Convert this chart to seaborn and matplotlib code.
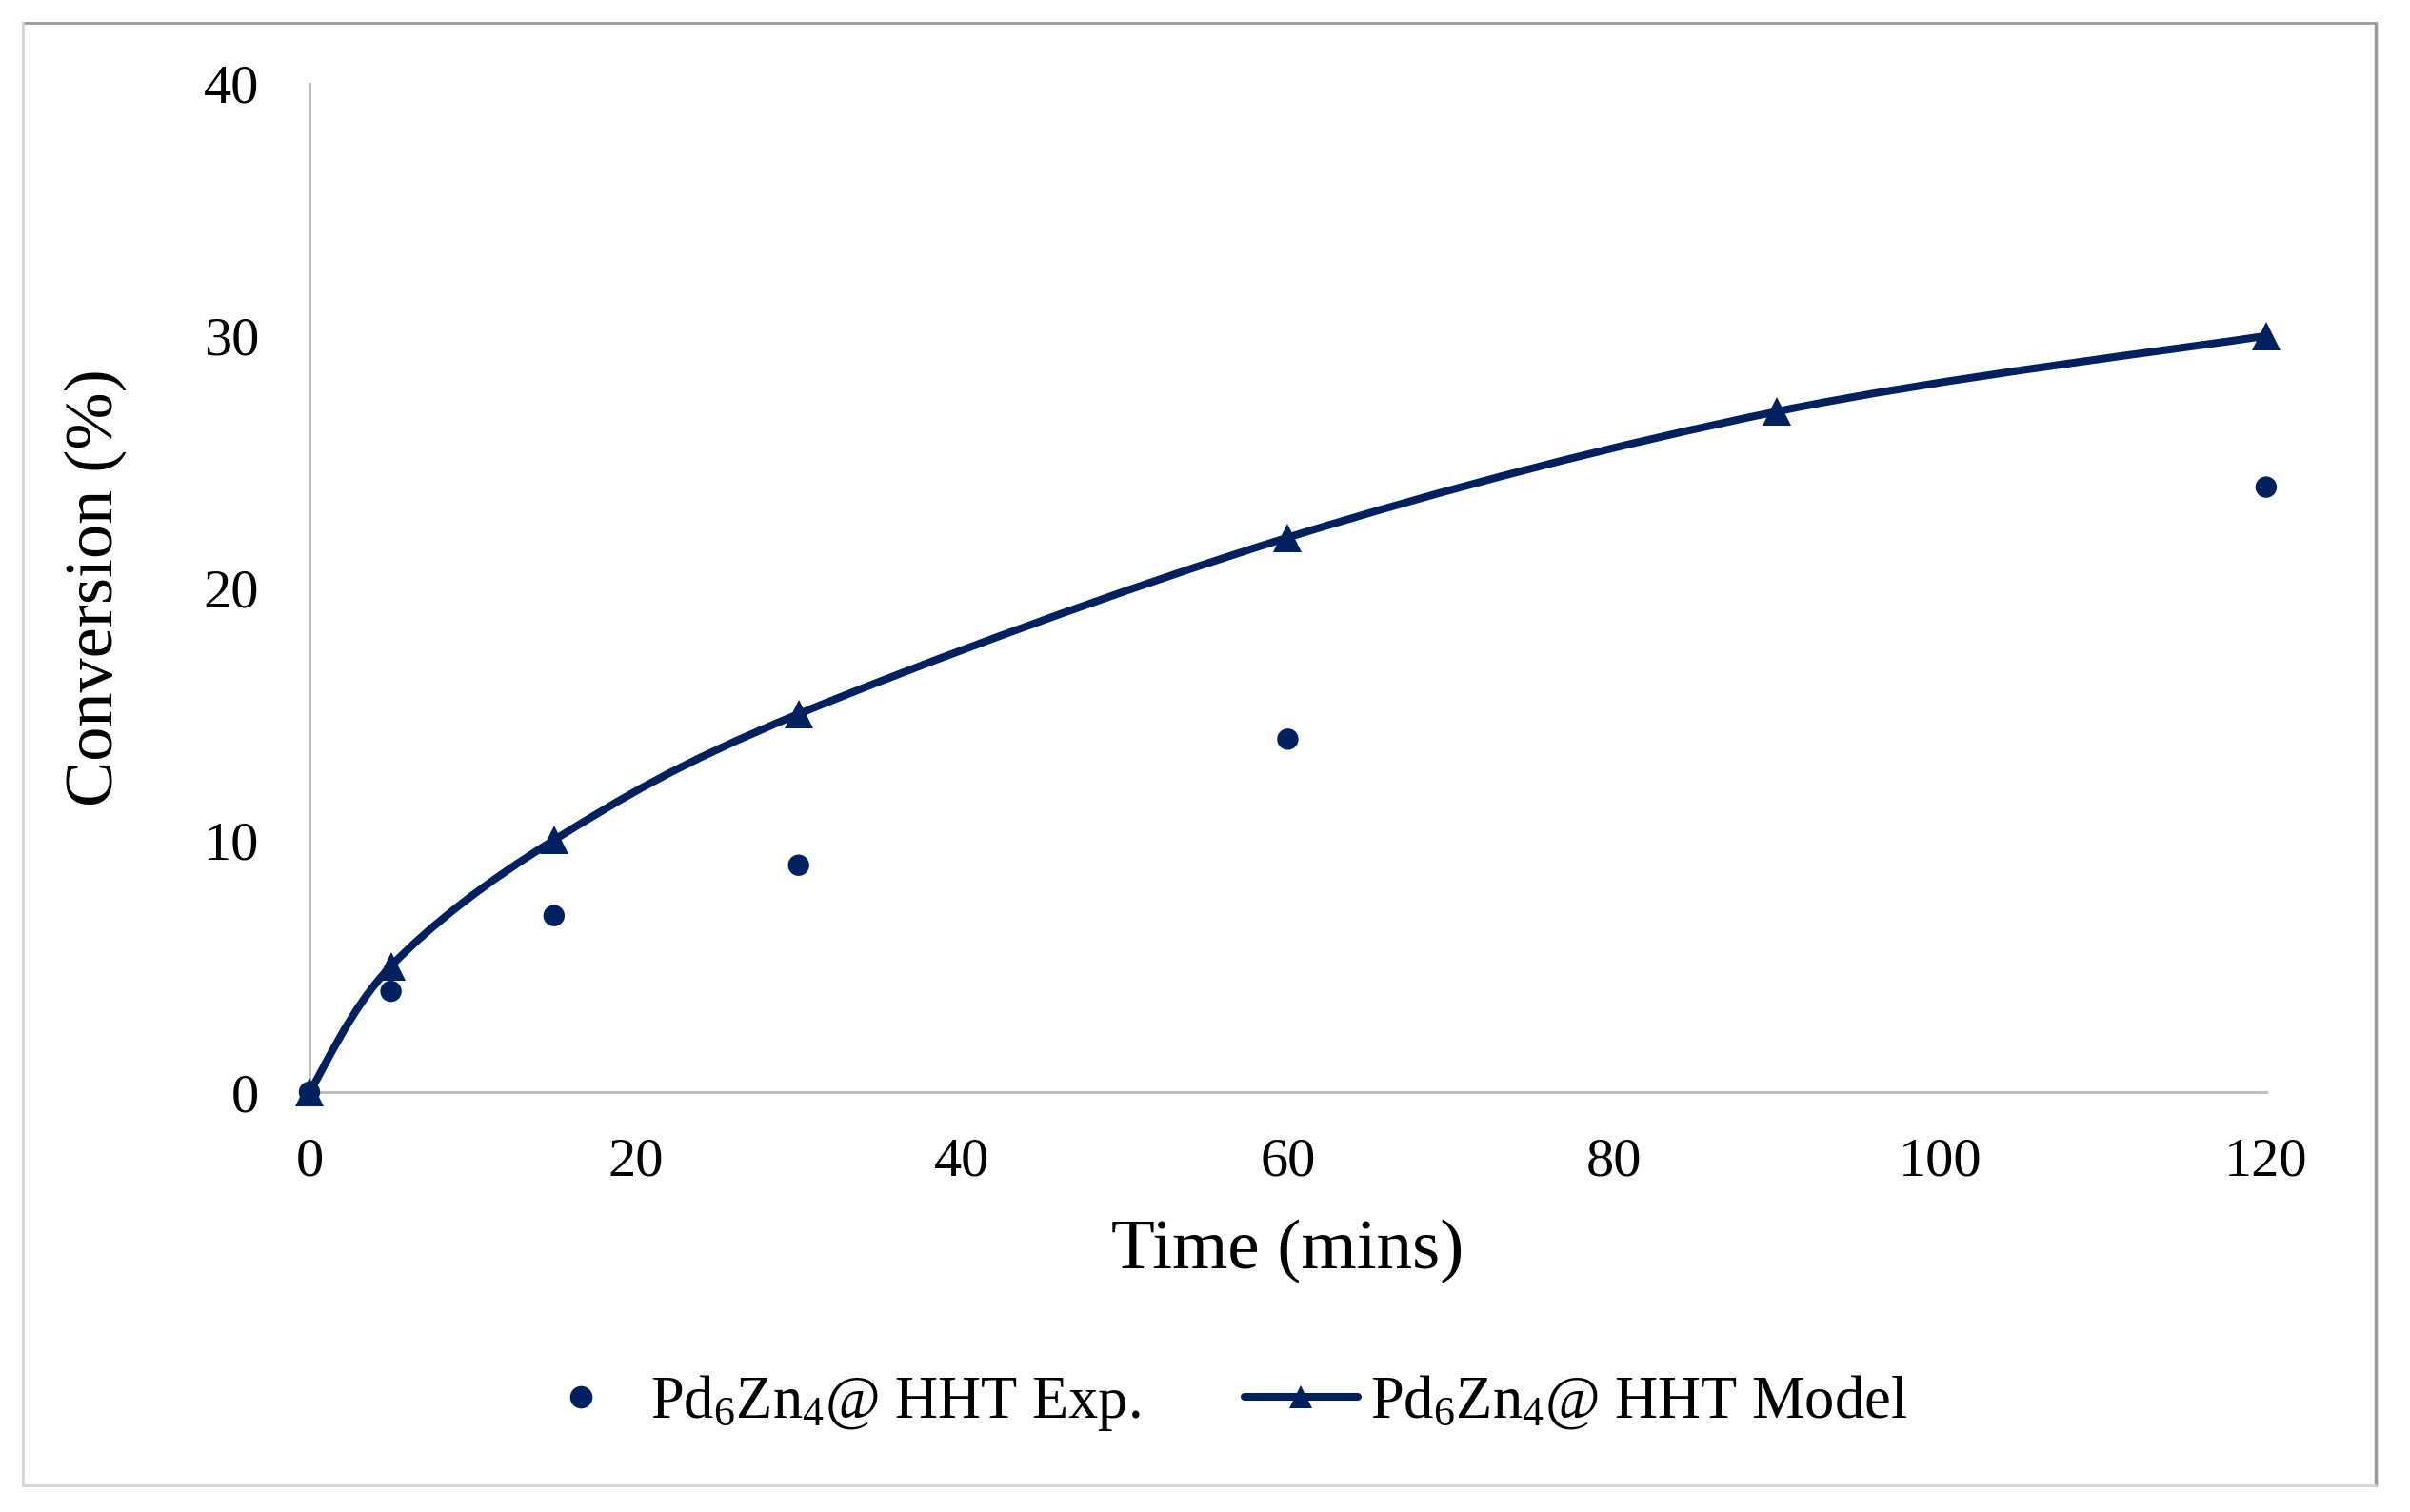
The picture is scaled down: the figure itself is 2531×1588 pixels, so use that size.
import numpy as np
import matplotlib
matplotlib.use('Agg')
import matplotlib.pyplot as plt
import seaborn as sns
from matplotlib.path import Path
from matplotlib.patches import PathPatch
from matplotlib.lines import Line2D

# data
time_exp = [0, 5, 15, 30, 60, 120]
conv_exp = [0, 4, 7, 9, 14, 24]
time_model = [0, 5, 15, 30, 60, 90, 120]
conv_model = [0, 5, 10, 15, 22, 27, 30]

x_ticks = [0, 20, 40, 60, 80, 100, 120]
y_ticks = [0, 10, 20, 30, 40]
label_exp = r'Pd$_{6}$Zn$_{4}$@ HHT Exp.'
label_model = r'Pd$_{6}$Zn$_{4}$@ HHT Model'

NAVY = '#002060'
AXIS_GREY = '#bfbfbf'


def smooth_path(x, y):
    # excel-like smoothed line: cubic bezier through every point
    pts = np.column_stack([x, y]).astype(float)
    n = len(pts)
    verts = [pts[0]]
    codes = [Path.MOVETO]
    for i in range(n - 1):
        p0 = pts[i - 1] if i > 0 else pts[i]
        p1 = pts[i]
        p2 = pts[i + 1]
        p3 = pts[i + 2] if i + 2 < n else pts[i + 1]
        c1 = p1 + (p2 - p0) / 6.0
        c2 = p2 - (p3 - p1) / 6.0
        verts += [c1, c2, p2]
        codes += [Path.CURVE4] * 3
    return Path(verts, codes)


sns.set_style('white')
plt.rcParams['font.family'] = ['Liberation Serif', 'DejaVu Serif']
plt.rcParams['mathtext.fontset'] = 'custom'
plt.rcParams['mathtext.rm'] = 'Liberation Serif'
plt.rcParams['mathtext.it'] = 'Liberation Serif:italic'

fig = plt.figure(figsize=(25.31, 15.88), dpi=100)
ax = fig.add_axes([0.1284, 0.2777, 0.8119, 0.6669])

# smoothed model curve
ax.add_patch(PathPatch(smooth_path(time_model, conv_model), facecolor='none',
                       edgecolor=NAVY, lw=5.8, zorder=3, clip_on=False))

sns.lineplot(x=time_model, y=conv_model, ax=ax, color=NAVY, linestyle='',
             marker='^', markersize=21, markeredgewidth=0, zorder=4, clip_on=False)
sns.scatterplot(x=time_exp, y=conv_exp, ax=ax, color=NAVY, s=260,
                edgecolor='none', zorder=4, clip_on=False)

ax.set_xlim(0, 120)
ax.set_ylim(0, 40)
ax.set_xticks(x_ticks)
ax.set_yticks(y_ticks)
ax.tick_params(axis='both', length=0, labelsize=42, colors='black')
ax.tick_params(axis='x', pad=34)
ax.tick_params(axis='y', pad=38)

for side in ['top', 'right']:
    ax.spines[side].set_visible(False)
for side in ['left', 'bottom']:
    ax.spines[side].set_color(AXIS_GREY)
    ax.spines[side].set_linewidth(2.2)

ax.set_xlabel('Time (mins)', fontsize=54, labelpad=25, color='black')
ax.set_ylabel('Conversion (%)', fontsize=52, labelpad=58, color='black')

handles = [
    Line2D([], [], linestyle='', marker='o', markersize=16, color=NAVY),
    Line2D([], [], color=NAVY, lw=5.8, marker='^', markersize=17, markeredgewidth=0),
]
fig.legend(handles, [label_exp, label_model], loc='center',
           bbox_to_anchor=(0.5046, 0.0724), ncol=2, frameon=False,
           fontsize=45, handlelength=1.9, handletextpad=0.22, columnspacing=1.75,
           labelcolor='black')

# chart frame
W, H = 2531, 1588
l, r, t, b = 24 / W, 2495 / W, 1 - 24 / H, 1 - 1560 / H
fig.add_artist(Line2D([l, r], [t, t], color='#9a9a9a', lw=2, transform=fig.transFigure))
fig.add_artist(Line2D([r, r], [t, b], color='#9a9a9a', lw=2.5, transform=fig.transFigure))
fig.add_artist(Line2D([l, l], [t, b], color='#d4d4d4', lw=2, transform=fig.transFigure))
fig.add_artist(Line2D([l, r], [b, b], color='#d4d4d4', lw=2, transform=fig.transFigure))

fig.savefig('out.png', dpi=100, facecolor='white')
